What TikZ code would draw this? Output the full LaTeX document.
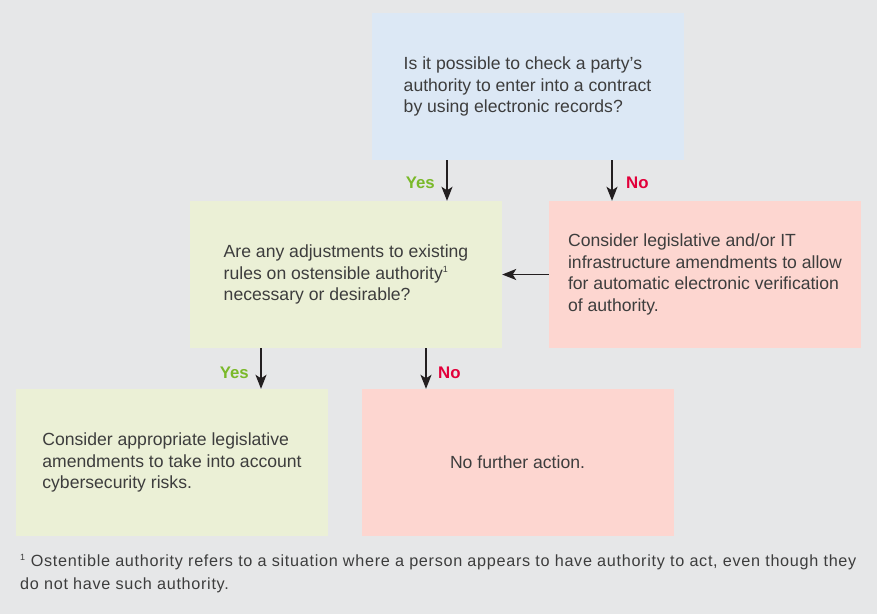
\documentclass[tikz,border=0pt]{standalone}
\usepackage{fontspec}
\setmainfont{Liberation Sans}
\newfontfamily\notefont{Liberation Sans}[LetterSpace=4.3]
\usetikzlibrary{arrows.meta}

\definecolor{pagebg}{HTML}{E6E7E8}
\definecolor{qblue}{HTML}{DCE8F5}
\definecolor{qgreen}{HTML}{EBF0D6}
\definecolor{qpink}{HTML}{FDD6D0}
\definecolor{bodytext}{HTML}{3D3D3D}
\definecolor{yesgreen}{HTML}{7AB929}
\definecolor{nored}{HTML}{E2003A}
\definecolor{arrowink}{HTML}{231F20}

\tikzset{
  box/.style={inner sep=0pt, minimum width=312pt, minimum height=147pt,
    align=left, text=bodytext, font=\fontsize{17.6}{21.7}\selectfont},
  flow/.style={draw=arrowink, line width=1.7pt,
    -{Stealth[length=14pt,width=11pt,inset=3.5pt]}},
  yeslabel/.style={text=yesgreen, font=\fontsize{16.8}{18}\selectfont\bfseries, inner sep=0pt},
  nolabel/.style={text=nored, font=\fontsize{16.8}{18}\selectfont\bfseries, inner sep=0pt},
  note/.style={text=bodytext, align=left, inner sep=0pt,
    font=\notefont\fontsize{16.2}{22.5}\selectfont}
}

\begin{document}
\begin{tikzpicture}[x=1pt, y=-1pt]
  % page background
  \fill[pagebg] (0,0) rectangle (877,614);
  \useasboundingbox (0,0) rectangle (877,614);

  % decision and outcome boxes
  \node[box, fill=qblue]  (check)   at (527.5,86.5)
    {Is it possible to check a party’s\\authority to enter into a contract\\by using electronic records?};
  \node[box, fill=qgreen] (adjust)  at (346,274.5)
    {Are any adjustments to existing\\rules on ostensible authority\textsuperscript{\fontsize{9}{9}\selectfont 1}\\necessary or desirable?};
  \node[box, fill=qpink]  (infra)   at (705,274.5)
    {Consider legislative and/or IT\\infrastructure amendments to allow\\for automatic electronic verification\\of authority.};
  \node[box, fill=qgreen] (cyber)   at (172,462.5)
    {Consider appropriate legislative\\amendments to take into account\\cybersecurity risks.};
  \node[box, fill=qpink]  (nothing) at (517.5,462.5)
    {No further action.};

  % connectors
  \draw[flow] ([xshift=-80.5pt]check.south) -- ([xshift=-80.5pt]check.south |- adjust.north);
  \draw[flow] ([xshift=84.5pt]check.south)  -- ([xshift=84.5pt]check.south |- infra.north);
  \draw[flow] (infra.west) -- (adjust.east);
  \draw[flow] ([xshift=-85pt]adjust.south)  -- ([xshift=-85pt]adjust.south |- cyber.north);
  \draw[flow] ([xshift=80pt]adjust.south)   -- ([xshift=80pt]adjust.south |- nothing.north);

  % branch labels
  \node[yeslabel, anchor=east] (y1) at (435,183) {Yes};
  \node[nolabel,  anchor=west] (n1) at (626,183) {No};
  \node[yeslabel, anchor=east] (y2) at (249,373) {Yes};
  \node[nolabel,  anchor=west] (n2) at (438,373) {No};

  % footnote
  \node[note, anchor=north west] (fn) at (20,554)
    {\textsuperscript{\fontsize{9}{9}\selectfont 1} Ostentible authority refers to a situation where a person appears to have authority to act, even though they\\do not have such authority.};
\end{tikzpicture}
\end{document}
